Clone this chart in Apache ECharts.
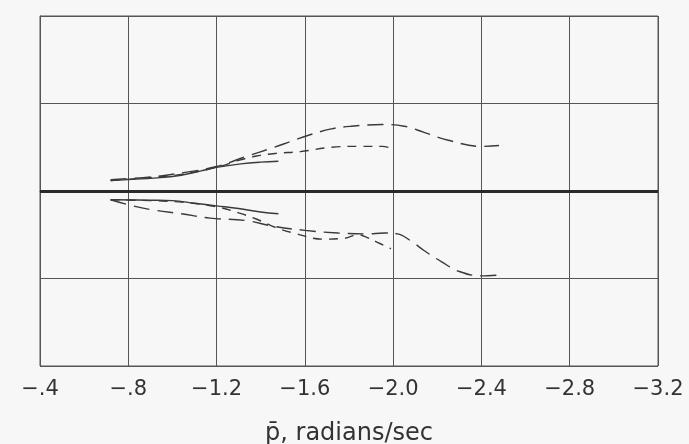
<!DOCTYPE html>
<html>
<head>
<meta charset="utf-8">
<script src="https://cdn.jsdelivr.net/npm/echarts@6/dist/echarts.min.js"></script>
<style>
  html, body { margin: 0; padding: 0; background: #f7f7f7; }
  #chart { width: 689px; height: 444px; }
</style>
</head>
<body>
<div id="chart"></div>
<script>
// x ticks (radians/sec)
const xTicks = [-0.4, -0.8, -1.2, -1.6, -2.0, -2.4, -2.8, -3.2];
const xLabels = ['-.4', '-.8', '-1.2', '-1.6', '-2.0', '-2.4', '-2.8', '-3.2'];

// upper branch
const upperLong = [[-0.72, 0.13], [-0.9, 0.16], [-1.05, 0.21], [-1.2, 0.28], [-1.34, 0.4], [-1.45, 0.49], [-1.54, 0.57],
  [-1.62, 0.64], [-1.72, 0.71], [-1.81, 0.74], [-1.95, 0.76], [-2.05, 0.74], [-2.14, 0.67], [-2.25, 0.58],
  [-2.4, 0.51], [-2.48, 0.52]];
const upperDash = [[-0.72, 0.12], [-0.93, 0.16], [-1.04, 0.19], [-1.2, 0.27], [-1.3, 0.35], [-1.38, 0.4], [-1.47, 0.43],
  [-1.58, 0.45], [-1.72, 0.5], [-1.84, 0.51], [-1.95, 0.51], [-2.0, 0.48]];
const upperSolid = [[-0.72, 0.12], [-0.93, 0.15], [-1.04, 0.18], [-1.13, 0.23], [-1.2, 0.27], [-1.31, 0.31], [-1.4, 0.33], [-1.48, 0.34]];

// lower branch
const lowerLong = [[-0.72, -0.1], [-0.82, -0.17], [-0.92, -0.22], [-1.04, -0.26], [-1.17, -0.31], [-1.34, -0.34],
  [-1.45, -0.4], [-1.6, -0.45], [-1.75, -0.48], [-1.88, -0.49], [-1.96, -0.48], [-2.02, -0.49], [-2.08, -0.57],
  [-2.14, -0.68], [-2.22, -0.81], [-2.3, -0.92], [-2.4, -0.97], [-2.48, -0.96]];
const lowerDash = [[-0.72, -0.1], [-0.9, -0.11], [-1.05, -0.13], [-1.2, -0.18], [-1.3, -0.25], [-1.38, -0.32],
  [-1.47, -0.42], [-1.55, -0.48], [-1.68, -0.55], [-1.78, -0.54], [-1.84, -0.5], [-1.88, -0.53], [-1.94, -0.6], [-1.99, -0.66]];
const lowerSolid = [[-0.72, -0.1], [-0.9, -0.105], [-1.0, -0.11], [-1.1, -0.14], [-1.2, -0.17], [-1.3, -0.2], [-1.4, -0.24], [-1.48, -0.26]];

const ink = '#3a3a3a';

function curve(data, type) {
  return {
    type: 'line', data, smooth: 0.4, symbol: 'none', silent: true,
    lineStyle: { color: ink, width: 1.4, type }
  };
}

const chart = echarts.init(document.getElementById('chart'));
chart.setOption({
  backgroundColor: '#f7f7f7',
  animation: false,
  grid: {
    left: 40, right: 31, top: 16, bottom: 78, outerBoundsMode: 'none',
    show: true, borderColor: '#555', borderWidth: 1
  },
  xAxis: {
    type: 'value', inverse: true, min: -3.2, max: -0.4, interval: 0.4,
    name: 'p\u0304, radians/sec', nameLocation: 'middle', nameGap: 56,
    nameTextStyle: { color: '#333', fontSize: 24, fontFamily: 'DejaVu Sans' },
    axisLine: { show: true, lineStyle: { color: '#555', width: 1 } },
    axisTick: { show: false },
    splitLine: { show: true, lineStyle: { color: '#555', width: 1 } },
    axisLabel: {
      color: '#333', fontSize: 21, fontFamily: 'DejaVu Sans', margin: 13,
      formatter: v => {
        const i = xTicks.findIndex(t => Math.abs(t - v) < 1e-6);
        return i >= 0 ? xLabels[i].replace('-', '\u2212') : '';
      }
    }
  },
  yAxis: {
    type: 'value', min: -2, max: 2, interval: 1,
    axisLine: { show: true, lineStyle: { color: '#555', width: 1 } },
    axisTick: { show: false },
    axisLabel: { show: false },
    splitLine: { show: true, lineStyle: { color: '#555', width: 1 } }
  },
  series: [
    {
      ...curve(upperLong, [16, 8]),
      markLine: {
        silent: true, symbol: 'none', label: { show: false },
        lineStyle: { color: '#2a2a2a', width: 3, type: 'solid' },
        data: [{ yAxis: 0 }]
      }
    },
    curve(upperDash, [9, 7]),
    curve(upperSolid, 'solid'),
    curve(lowerLong, [16, 8]),
    curve(lowerDash, [9, 7]),
    curve(lowerSolid, 'solid')
  ]
});
</script>
</body>
</html>
